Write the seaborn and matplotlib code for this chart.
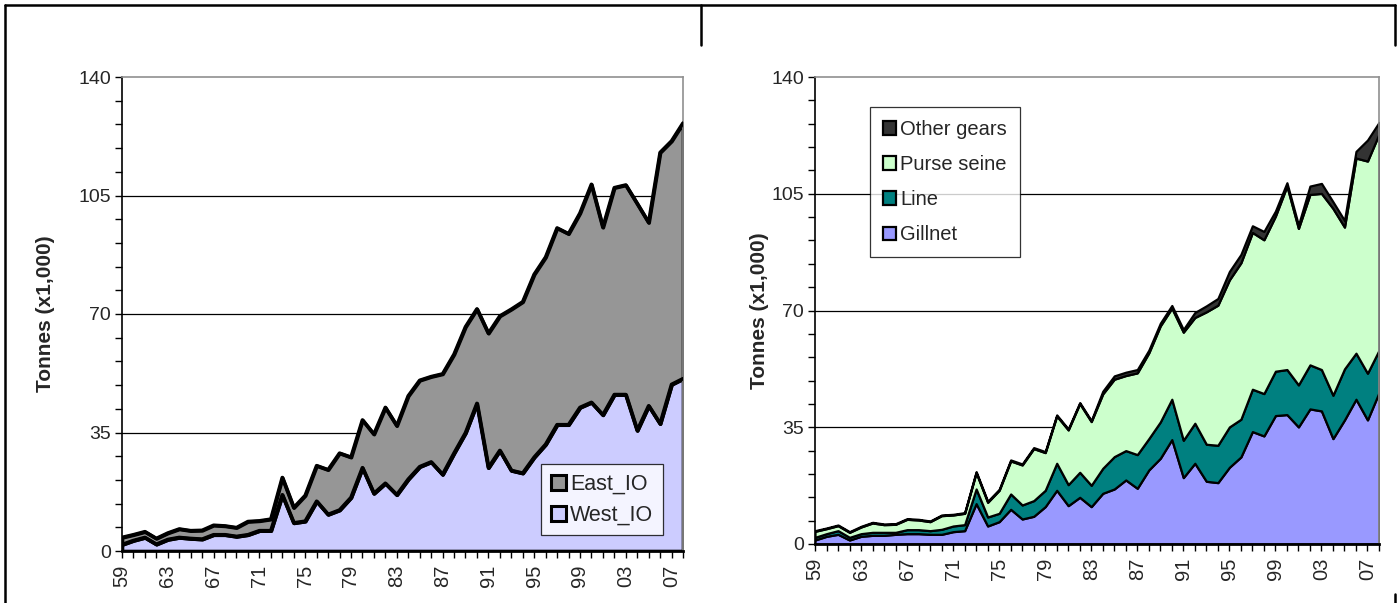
import numpy as np
import pandas as pd
import matplotlib
matplotlib.use("Agg")
import matplotlib.pyplot as plt
from matplotlib.lines import Line2D
from matplotlib.patches import Patch
from matplotlib.ticker import MultipleLocator, FixedLocator
import seaborn as sns

# Annual catches, thousand tonnes, 1959-2008
years = list(range(1959, 2009))

west_io = [1.9, 3.1, 4.0, 2.0, 3.4, 4.0, 3.7, 3.5, 4.8, 4.8,
           4.3, 4.8, 6.0, 6.0, 16.6, 8.3, 8.8, 14.7, 10.8, 12.1,
           15.8, 24.6, 17.0, 20.0, 16.6, 21.2, 24.9, 26.3, 22.6, 28.9,
           34.9, 43.6, 24.6, 29.7, 23.8, 23.0, 27.7, 31.5, 37.3, 37.3,
           42.4, 43.9, 40.2, 46.2, 46.2, 35.6, 42.9, 37.6, 49.2, 50.9]
east_io = [2.1, 1.7, 1.7, 1.7, 1.9, 2.5, 2.3, 2.6, 2.8, 2.6,
           2.6, 3.9, 2.9, 3.4, 5.1, 4.5, 7.6, 10.5, 13.2, 16.8,
           11.9, 14.1, 17.5, 22.4, 20.4, 24.6, 25.5, 25.2, 29.7, 29.2,
           31.3, 27.9, 39.7, 39.7, 47.6, 50.6, 54.0, 55.3, 58.1, 56.4,
           57.4, 64.4, 55.4, 61.1, 61.9, 67.0, 54.1, 80.1, 71.9, 75.5]

gillnet = [1.2, 2.3, 2.9, 1.2, 2.3, 2.6, 2.6, 2.9, 3.1, 3.1,
           2.9, 2.9, 3.7, 4.0, 12.1, 5.4, 6.7, 10.4, 7.5, 8.3,
           11.2, 16.1, 11.5, 14.0, 11.2, 15.2, 16.5, 19.2, 16.7, 22.2,
           25.7, 31.3, 19.9, 24.2, 18.8, 18.4, 23.0, 26.1, 33.7, 32.4,
           38.5, 38.8, 35.1, 40.5, 39.9, 31.6, 37.2, 43.4, 37.2, 45.4]
line = [0.8, 0.8, 1.1, 0.8, 0.8, 0.9, 0.9, 0.6, 1.2, 1.2,
        1.1, 1.5, 1.7, 1.8, 4.4, 2.7, 2.5, 4.6, 4.2, 4.7,
        4.9, 8.1, 6.3, 7.5, 6.4, 7.5, 9.7, 8.8, 10.1, 9.4,
        10.9, 12.1, 11.2, 12.0, 11.1, 11.2, 12.1, 11.3, 12.7, 12.7,
        13.3, 13.5, 12.6, 13.2, 12.4, 13.0, 15.3, 13.8, 14.0, 12.7]
purse_seine = [1.8, 1.5, 1.5, 1.5, 2.0, 2.8, 2.3, 2.4, 3.1, 2.9,
               2.7, 4.1, 3.3, 3.4, 4.9, 4.4, 6.9, 9.9, 12.0, 15.6,
               11.3, 14.2, 16.4, 20.6, 19.1, 22.3, 23.2, 22.5, 24.5, 25.7,
               28.8, 27.3, 32.4, 31.7, 39.7, 42.0, 44.1, 46.9, 47.0, 46.1,
               46.5, 55.0, 46.9, 51.1, 52.8, 56.0, 42.5, 58.5, 63.6, 64.8]
other_gears = [0.2, 0.2, 0.2, 0.2, 0.2, 0.2, 0.2, 0.2, 0.2, 0.2,
               0.2, 0.2, 0.2, 0.2, 0.3, 0.3, 0.3, 0.3, 0.3, 0.3,
               0.3, 0.3, 0.3, 0.3, 0.3, 0.8, 1.0, 1.0, 1.0, 0.8,
               0.8, 0.8, 0.8, 1.5, 1.8, 2.0, 2.5, 2.5, 2.0, 2.5,
               1.5, 1.0, 1.0, 2.5, 3.0, 2.0, 2.0, 2.0, 6.3, 3.5]

tick_years = list(range(1959, 2009, 4))

sns.set_theme(style="white")
plt.rcParams["font.family"] = ["Liberation Sans", "DejaVu Sans"]

W, H = 1399, 603
fig = plt.figure(figsize=(W / 100, H / 100), dpi=100)


def px_axes(x0, y0, x1, y1):
    return fig.add_axes([x0 / W, 1 - y1 / H, (x1 - x0) / W, (y1 - y0) / H])


def stacked(ax, df, cols, colors, lw):
    base = np.zeros(len(df))
    for col, colr in zip(cols, colors):
        top = base + df[col].to_numpy()
        ax.fill_between(df["year"], base, top, facecolor=colr,
                        edgecolor="black", linewidth=lw, zorder=2)
        base = top


def style_axes(ax, label_x):
    ax.set_xlim(1959, 2008)
    ax.set_ylim(0, 140)
    ax.yaxis.set_major_locator(FixedLocator([0, 35, 70, 105, 140]))
    ax.yaxis.set_minor_locator(MultipleLocator(7))
    ax.xaxis.set_major_locator(FixedLocator(tick_years))
    ax.xaxis.set_minor_locator(MultipleLocator(1))
    ax.set_xticklabels([f"{y % 100:02d}" for y in tick_years],
                       rotation=90, fontsize=14.5)
    ax.tick_params(axis="y", which="major", left=True, length=5, width=1,
                   labelsize=14, color="black", pad=3)
    ax.tick_params(axis="y", which="minor", left=True, length=5, width=1,
                   color="black")
    ax.tick_params(axis="x", which="both", bottom=True, length=5, width=1,
                   color="black", pad=5)
    ax.grid(False)
    for y in (35, 70, 105):
        ax.axhline(y, color="black", lw=0.9, zorder=1)
    for s in ("top", "right"):
        ax.spines[s].set_color("#909090")
        ax.spines[s].set_linewidth(1.2)
    ax.spines["left"].set_color("black")
    ax.spines["left"].set_linewidth(1.2)
    ax.spines["bottom"].set_color("black")
    ax.spines["bottom"].set_linewidth(2)
    ax.spines["bottom"].set_zorder(5)
    ax.set_ylabel("Tonnes (x1,000)", fontsize=15, fontweight="bold")
    ax.yaxis.set_label_coords(label_x, 0.5)
    ax.set_xlabel("")
    ax.set_facecolor("white")


# Left panel: catches by area
area_df = pd.DataFrame({"year": years, "West_IO": west_io, "East_IO": east_io})
ax1 = px_axes(122, 77, 683, 551)
stacked(ax1, area_df, ["West_IO", "East_IO"], ["#CCCCFF", "#969696"], 2.6)
area_df["total"] = area_df["West_IO"] + area_df["East_IO"]
sns.lineplot(data=area_df, x="year", y="West_IO", ax=ax1, color="black",
             lw=2.6, zorder=3)
sns.lineplot(data=area_df, x="year", y="total", ax=ax1, color="black",
             lw=2.6, zorder=3)
style_axes(ax1, -0.12)
h1 = [Patch(facecolor="#969696", edgecolor="black", lw=2.2, label="East_IO"),
      Patch(facecolor="#CCCCFF", edgecolor="black", lw=2.2, label="West_IO")]
leg1 = ax1.legend(handles=h1, loc="lower right",
                  bbox_to_anchor=(0.964, 0.033), fontsize=15.5, frameon=True,
                  fancybox=False, edgecolor="black", handlelength=0.7,
                  handleheight=0.7, handletextpad=0.2, borderpad=0.45,
                  labelspacing=0.45, borderaxespad=0)
leg1.get_frame().set_linewidth(0.9)

# Right panel: catches by gear
gear_df = pd.DataFrame({"year": years, "Gillnet": gillnet, "Line": line,
                        "Purse seine": purse_seine,
                        "Other gears": other_gears})
ax2 = px_axes(815, 77, 1379, 544)
stacked(ax2, gear_df, ["Gillnet", "Line", "Purse seine", "Other gears"],
        ["#9999FF", "#008080", "#CCFFCC", "#333333"], 1.6)
style_axes(ax2, -0.082)
h2 = [Patch(facecolor="#333333", edgecolor="black", lw=1.6, label="Other gears"),
      Patch(facecolor="#CCFFCC", edgecolor="black", lw=1.6, label="Purse seine"),
      Patch(facecolor="#008080", edgecolor="black", lw=1.6, label="Line"),
      Patch(facecolor="#9999FF", edgecolor="black", lw=1.6, label="Gillnet")]
leg2 = ax2.legend(handles=h2, loc="upper left",
                  bbox_to_anchor=(0.097, 0.936), fontsize=14.5, frameon=True,
                  fancybox=False, edgecolor="black", handlelength=0.65,
                  handleheight=0.65, handletextpad=0.2, borderpad=0.65,
                  labelspacing=0.8, borderaxespad=0)
leg2.get_frame().set_linewidth(0.9)

# Outer frame lines around the two chart blocks
def fig_line(xs, ys, lw=1.8):
    fig.add_artist(Line2D([x / W for x in xs], [1 - y / H for y in ys],
                          color="black", lw=lw, transform=fig.transFigure))

fig_line([5, 1395], [5, 5])
fig_line([5, 5], [5, 603])
fig_line([701, 701], [5, 45])
fig_line([1395, 1395], [5, 45])
fig_line([1395, 1395], [594, 603])

fig.savefig("out.png", dpi=100, facecolor="white")
